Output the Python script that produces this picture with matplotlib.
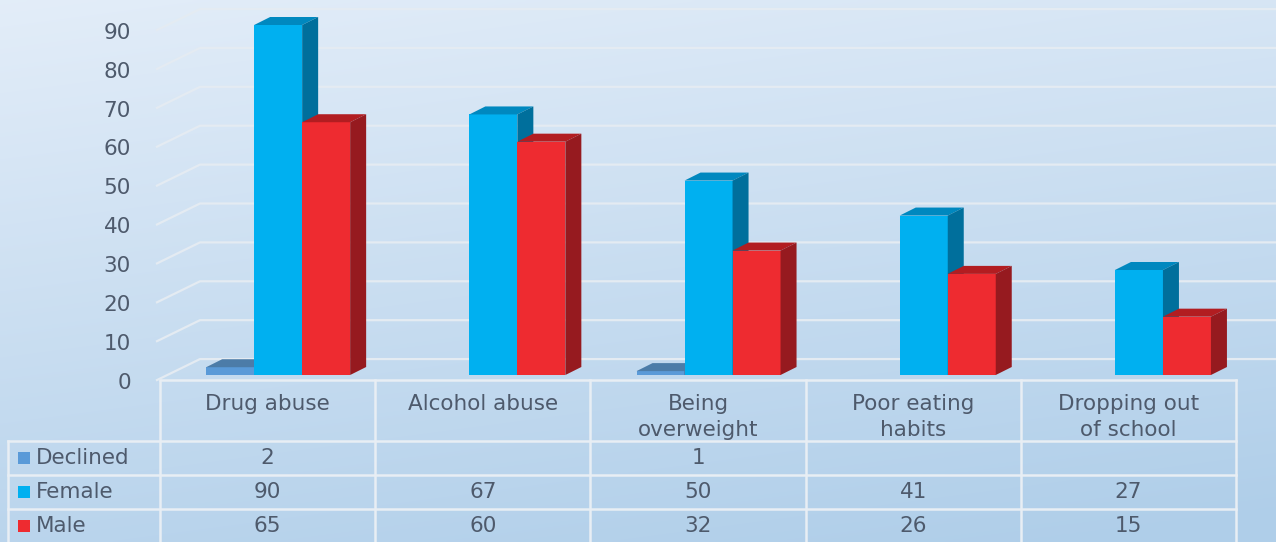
import numpy as np
import matplotlib
matplotlib.use("Agg")
import matplotlib.pyplot as plt
from matplotlib.patches import Polygon
from matplotlib.transforms import blended_transform_factory

categories = ["Drug abuse", "Alcohol abuse", "Being\noverweight",
              "Poor eating\nhabits", "Dropping out\nof school"]
series_names = ["Declined", "Female", "Male"]
declined = [2, None, 1, None, None]
female = [90, 67, 50, 41, 27]
male = [65, 60, 32, 26, 15]
yticks = [0, 10, 20, 30, 40, 50, 60, 70, 80, 90]

front_cols = ["#5a9ad8", "#00b0f0", "#ee2b30"]
top_cols = ["#4c7ca8", "#0088bf", "#b21d21"]
side_cols = ["#3d6890", "#006f9c", "#961a1f"]
txt = "#4e5a6c"
grid_c = "#e4ebf2"

W, H = 1276, 542
fig = plt.figure(figsize=(W / 100, H / 100), dpi=100)

# background gradient, pixel frame
bg = fig.add_axes([0, 0, 1, 1])
yy, xx = np.mgrid[0:1:200j, 0:1:300j]
t = np.clip(0.8 * yy + 0.25 * xx, 0, 1)
c0 = np.array([0.89, 0.93, 0.975])
c1 = np.array([0.69, 0.81, 0.915])
img = c0 + (c1 - c0) * t[..., None]
bg.imshow(img, extent=[0, W, H, 0], aspect="auto", interpolation="bilinear")
bg.set_xlim(0, W)
bg.set_ylim(H, 0)
bg.axis("off")

# data axes: category units across, values up
x0px, colw = 160, 215.2
y0px, ppu = 375, 350 / 90
ax = fig.add_axes([0, 0, 1, 1])
ax.patch.set_alpha(0)
ax.set_xlim(-0.5 - x0px / colw, -0.5 + (W - x0px) / colw)
ax.set_ylim((y0px - H) / ppu, y0px / ppu)
ax.axis("off")

mix = blended_transform_factory(bg.transData, ax.transData)

# back wall gridlines and value labels
for v in yticks:
    ax.plot([157, 200, W], [v - 1.3, v + 4.1, v + 4.1], color=grid_c,
            lw=1.6, transform=mix, zorder=1)
    ax.text(131, v - 2.0, str(v), ha="right", va="center", fontsize=15.5,
            color=txt, transform=mix)

# 3d bars
w = 48 / colw
dx, dy = 16 / colw, 8 / ppu
offsets = [0.049 - w, 0.049, 0.049 + w]
for i in range(len(categories)):
    for s, vals in enumerate([declined, female, male]):
        v = vals[i]
        if v is None:
            continue
        x = i + offsets[s]
        ax.bar(x, v, width=w, color=front_cols[s], lw=0, zorder=3)
        l, r = x - w / 2, x + w / 2
        ax.add_patch(Polygon([(l, v), (r, v), (r + dx, v + dy), (l + dx, v + dy)],
                             closed=True, color=top_cols[s], lw=0, zorder=3))
        ax.add_patch(Polygon([(r, 0), (r + dx, dy), (r + dx, v + dy), (r, v)],
                             closed=True, color=side_cols[s], lw=0, zorder=3))

# data table below the plot
rows = [380, 441, 475, 509, 542]
cols = [x0px + colw * k for k in range(len(categories) + 1)]
lc = "#e8eef4"
bg.plot([cols[0], cols[-1]], [rows[0], rows[0]], color=lc, lw=1.8)
for yv in rows[1:4]:
    bg.plot([8, cols[-1]], [yv, yv], color=lc, lw=1.8)
for xv in cols:
    bg.plot([xv, xv], [rows[0], H], color=lc, lw=1.8)
bg.plot([8, 8], [rows[1], H], color=lc, lw=1.8)

for k, name in enumerate(categories):
    cx = (cols[k] + cols[k + 1]) / 2
    bg.text(cx, 394, name, ha="center", va="top", fontsize=15.5, color=txt,
            linespacing=1.4, multialignment="center")

for r, (name, vals) in enumerate(zip(series_names, [declined, female, male])):
    cy = (rows[r + 1] + rows[r + 2]) / 2
    bg.add_patch(plt.Rectangle((18, cy - 6), 12, 12, color=front_cols[r], lw=0))
    bg.text(36, cy, name, ha="left", va="center", fontsize=15.5, color=txt)
    for k, v in enumerate(vals):
        if v is None:
            continue
        cx = (cols[k] + cols[k + 1]) / 2
        bg.text(cx, cy, str(v), ha="center", va="center", fontsize=15.5, color=txt)

fig.savefig("out.png", dpi=100)
